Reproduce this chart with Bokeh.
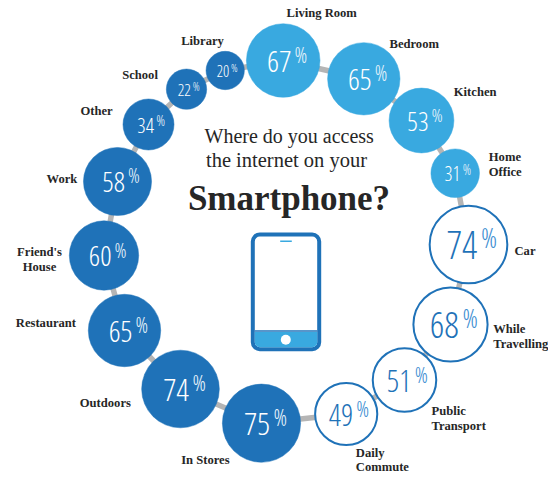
from bokeh.core.properties import value
from bokeh.embed import file_html
from bokeh.models import ColumnDataSource, Range1d
from bokeh.plotting import figure
from bokeh.resources import INLINE

# Survey answers, clockwise from the top of the ring
categories = ["Living Room", "Bedroom", "Kitchen", "Home\nOffice", "Car", "While\nTravelling",
              "Public\nTransport", "Daily\nCommute", "In Stores", "Outdoors", "Restaurant",
              "Friend's\nHouse", "Work", "Other", "School", "Library"]
percentages = [67, 65, 53, 31, 74, 68, 51, 49, 75, 74, 65, 60, 58, 34, 22, 20]
groups = ["home", "home", "home", "home", "transit", "transit", "transit", "transit",
          "out", "out", "out", "out", "out", "out", "out", "out"]

# Page layout in pixels: bubble centres
centre_x = [282.7, 363.3, 421, 454.7, 468, 450, 404, 345.7, 261, 180, 124, 103.5, 117, 148, 186, 224.7]
centre_y = [60, 78.3, 120, 172.7, 244, 324, 379.5, 413.5, 422.7, 388.5, 330, 255, 181, 124, 88.7, 70]

# Caption anchors: x, vertical middle of first line, alignment
caption_x = [286, 389, 453.3, 488.3, 514, 492.7, 431, 355.3, 180.7, 79.3, 15.3, 39, 46, 80, 121.7, 180.7]
caption_y = [12.5, 43.5, 91.5, 156.5, 250, 328.5, 410.5, 452, 459.5, 402.5, 322.5, 251.5, 178.5, 110.5, 74.5, 40.5]
caption_align = ["left"] * 11 + ["center"] + ["left"] * 4

LIGHT = "#39a9e0"
DARK = "#1f72b8"
LINK = "#b5b5b5"
INK = "#262626"
NARROW = "Open Sans Condensed Light"
SERIF = "Liberation Serif"


def bubble_radius(pct):
    return 3.8 * pct ** 0.54


p = figure(width=548, height=478, output_backend="svg", toolbar_location=None,
           x_range=Range1d(0, 548), y_range=Range1d(478, 0), min_border=0,
           background_fill_color="white", border_fill_color="white")
p.xaxis.visible = False
p.yaxis.visible = False
p.grid.visible = False
p.outline_line_color = None

# Closed grey ring linking the bubbles
p.line(centre_x + centre_x[:1], centre_y + centre_y[:1], line_color=LINK, line_width=5.5)

radii = [bubble_radius(v) for v in percentages]
fills = [LIGHT if g == "home" else ("white" if g == "transit" else DARK) for g in groups]
strokes = [DARK if g == "transit" else f for g, f in zip(groups, fills)]
bubbles = ColumnDataSource(dict(x=centre_x, y=centre_y, r=radii, fill=fills, stroke=strokes,
                                width=[2 if g == "transit" else 0.5 for g in groups]))
p.circle("x", "y", radius="r", source=bubbles, fill_color="fill", line_color="stroke", line_width="width")

# Percentages: condensed number with a smaller raised sign
for x, y, r, v, g in zip(centre_x, centre_y, radii, percentages, groups):
    outlined = g == "transit"
    size = r * (0.98 if outlined else 0.82)
    colour = DARK if outlined else "white"
    p.text([x - r * (0.17 if outlined else 0.11)], [y + 0.5], text=[str(v)], text_color=colour,
           text_font=value(NARROW), text_font_size=f"{size:.1f}px",
           text_align="center", text_baseline="middle")
    p.text([x + r * (0.53 if outlined else 0.48)], [y - r * 0.17], text=["%"],
           text_color="#3f8fd2" if outlined else "#e4f1fa",
           text_font=value(NARROW), text_font_size=f"{size * 0.72:.1f}px",
           text_align="center", text_baseline="middle")

# Place captions, one text per line
for name, x, y, align in zip(categories, caption_x, caption_y, caption_align):
    for i, line in enumerate(name.split("\n")):
        p.text([x], [y + i * 14.8], text=[line], text_color=INK, text_font=value(SERIF),
               text_font_style="bold", text_font_size="12.6px", text_align=align, text_baseline="middle")

# Centre heading
p.text([288.7], [135], text=["Where do you access"], text_color=INK, text_font=value(SERIF),
       text_font_size="20px", text_align="center", text_baseline="middle")
p.text([286], [159.5], text=["the internet on your"], text_color=INK, text_font=value(SERIF),
       text_font_size="20.5px", text_align="center", text_baseline="middle")
p.text([288.5], [198], text=["Smartphone?"], text_color=INK, text_font=value(SERIF), text_font_style="bold",
       text_font_size="35px", text_align="center", text_baseline="middle")

# Phone icon
p.quad(left=[252.3], right=[318.7], top=[234], bottom=[348.7], fill_color="white", line_color=DARK,
       line_width=4, border_radius=7)
p.quad(left=[254.3], right=[316.7], top=[331.5], bottom=[346.7], fill_color=LIGHT, line_color=None,
       border_radius=[0, 0, 5, 5])
p.line([254.3, 316.7], [330.5, 330.5], line_color=DARK, line_width=1.5)
p.line([279.7, 291.3], [240.7, 240.7], line_color=LIGHT, line_width=1.5)
p.circle([285.3], [339.3], radius=5, fill_color="white", line_color=None)

open("out.html", "w").write(file_html(p, INLINE))
